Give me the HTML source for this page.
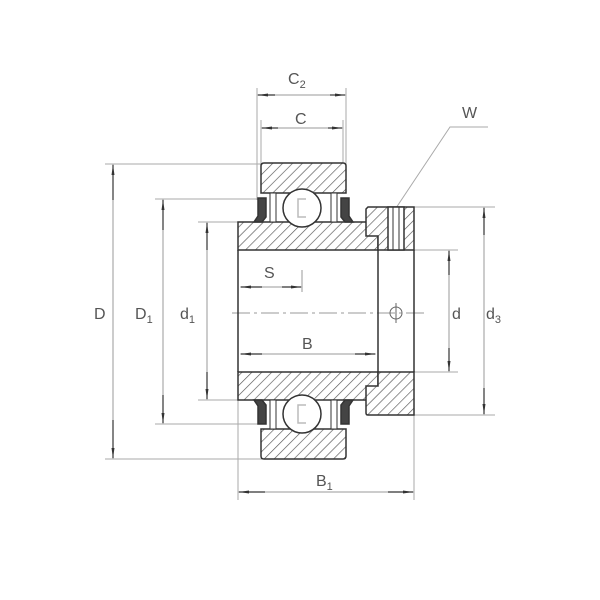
<!DOCTYPE html>
<html><head><meta charset="utf-8"><style>html,body{margin:0;padding:0;background:#fff}svg{display:block}text{font-family:"Liberation Sans",sans-serif;fill:#555;font-size:16px}</style></head>
<body>
<svg width="600" height="600" viewBox="0 0 600 600" xmlns="http://www.w3.org/2000/svg">
<defs>
<pattern id="h" patternUnits="userSpaceOnUse" width="7" height="7" patternTransform="rotate(45)">
<rect width="7" height="7" fill="#fff"/><line x1="0" y1="0" x2="0" y2="7" stroke="#555" stroke-width="1.3"/></pattern>
<marker id="a" markerWidth="10" markerHeight="6" refX="10" refY="3" orient="auto" markerUnits="userSpaceOnUse"><path d="M0,1.5 L10,3 L0,4.5z" fill="#333"/></marker>
</defs>
<g stroke="#aaa" stroke-width="1" fill="none">
<!-- extension lines -->
<line x1="105" y1="164" x2="262" y2="164"/><line x1="105" y1="459" x2="262" y2="459"/>
<line x1="155" y1="199" x2="262" y2="199"/><line x1="155" y1="424" x2="262" y2="424"/>
<line x1="198" y1="222" x2="238" y2="222"/><line x1="198" y1="400" x2="238" y2="400"/>
<line x1="414" y1="207" x2="495" y2="207"/><line x1="414" y1="415" x2="495" y2="415"/>
<line x1="414" y1="250" x2="458" y2="250"/><line x1="414" y1="372" x2="458" y2="372"/>
<line x1="257" y1="88" x2="257" y2="200"/><line x1="346" y1="88" x2="346" y2="165"/>
<line x1="261" y1="120" x2="261" y2="165"/><line x1="343" y1="120" x2="343" y2="165"/>
<line x1="238" y1="400" x2="238" y2="500"/><line x1="414" y1="415" x2="414" y2="500"/>
<!-- W leader -->
<polyline points="396,208 450,127 488,127"/>
</g>
<g stroke="#999" stroke-width="1" fill="none">
<line x1="113" y1="164" x2="113" y2="459"/><line x1="163" y1="199" x2="163" y2="424"/>
<line x1="207" y1="222" x2="207" y2="400"/><line x1="449" y1="250" x2="449" y2="372"/>
<line x1="484" y1="207" x2="484" y2="415"/>
<line x1="238" y1="492" x2="414" y2="492"/><line x1="257" y1="95" x2="346" y2="95"/>
<line x1="261" y1="128" x2="343" y2="128"/>
<line x1="240" y1="287" x2="302" y2="287"/><line x1="240" y1="354" x2="376" y2="354"/>
<line x1="302" y1="270" x2="302" y2="292"/>
</g>
<g stroke="#333" stroke-width="1.2" marker-end="url(#a)">
<line x1="113" y1="200" x2="113" y2="165"/><line x1="113" y1="420" x2="113" y2="458"/>
<line x1="163" y1="230" x2="163" y2="200"/><line x1="163" y1="395" x2="163" y2="423"/>
<line x1="207" y1="250" x2="207" y2="223"/><line x1="207" y1="372" x2="207" y2="399"/>
<line x1="449" y1="275" x2="449" y2="251"/><line x1="449" y1="348" x2="449" y2="371"/>
<line x1="484" y1="235" x2="484" y2="208"/><line x1="484" y1="388" x2="484" y2="414"/>
<line x1="265" y1="492" x2="239" y2="492"/><line x1="388" y1="492" x2="413" y2="492"/>
<line x1="275" y1="95" x2="258" y2="95"/><line x1="330" y1="95" x2="345" y2="95"/>
<line x1="278" y1="128" x2="262" y2="128"/><line x1="328" y1="128" x2="342" y2="128"/>
<line x1="262" y1="287" x2="241" y2="287"/><line x1="282" y1="287" x2="301" y2="287"/>
<line x1="262" y1="354" x2="241" y2="354"/><line x1="355" y1="354" x2="375" y2="354"/>
</g>
<!-- center line -->
<line x1="232" y1="313" x2="425" y2="313" stroke="#999" stroke-dasharray="18,4,3,4"/>
<g stroke="#333" stroke-width="1.5">
<!-- outer ring -->
<path d="M264,163 H343 Q346,163 346,166 V193 H261 V166 Q261,163 264,163z" fill="url(#h)"/>
<path d="M264,459 H343 Q346,459 346,456 V429 H261 V456 Q261,459 264,459z" fill="url(#h)"/>
<!-- inner ring -->
<path d="M238,222 H378 V250 H238z" fill="url(#h)"/>
<path d="M238,372 H378 V400 H238z" fill="url(#h)"/>
<!-- bore -->
<line x1="238" y1="250" x2="238" y2="372"/>
<!-- collar -->
<path d="M368,207 H414 V250 H378 V236 H366 V209z" fill="url(#h)"/>
<path d="M378,372 H414 V415 H368 Q366,415 366,413 V386 H378z" fill="url(#h)"/>
<line x1="378" y1="250" x2="378" y2="372"/><line x1="414" y1="250" x2="414" y2="372"/>
<rect x="388" y="207" width="16" height="43" fill="#fff"/>
<line x1="393" y1="207" x2="393" y2="250" stroke-width="1"/><line x1="399" y1="207" x2="399" y2="250" stroke-width="1"/>
<!-- seals -->
<path d="M258,198 H266 V217 L262,222 H254 L258,216z" fill="#444"/>
<path d="M349,198 H341 V217 L345,222 H353 L349,216z" fill="#444"/>
<path d="M258,424 H266 V405 L262,400 H254 L258,406z" fill="#444"/>
<path d="M349,424 H341 V405 L345,400 H353 L349,406z" fill="#444"/>
<rect x="270" y="193" width="6" height="29" fill="#fff" stroke-width="1"/>
<rect x="331" y="193" width="6" height="29" fill="#fff" stroke-width="1"/>
<rect x="270" y="400" width="6" height="29" fill="#fff" stroke-width="1"/>
<rect x="331" y="400" width="6" height="29" fill="#fff" stroke-width="1"/>
<!-- balls -->
<circle cx="302" cy="208" r="19" fill="#fff"/>
<circle cx="302" cy="414" r="19" fill="#fff"/>
</g>
<g stroke="#bbb" stroke-width="1.5" fill="none">
<path d="M306,199 H298 V217 H306"/><path d="M306,405 H298 V423 H306"/>
</g>
<circle cx="396" cy="313" r="6" fill="none" stroke="#666"/>
<line x1="396" y1="303" x2="396" y2="323" stroke="#666"/>
<text x="288" y="84">C<tspan font-size="11" dy="4">2</tspan></text>
<text x="295" y="124">C</text>
<text x="462" y="118">W</text>
<text x="94" y="319">D</text>
<text x="135" y="319">D<tspan font-size="11" dy="4">1</tspan></text>
<text x="180" y="319">d<tspan font-size="11" dy="4">1</tspan></text>
<text x="264" y="278">S</text>
<text x="302" y="349">B</text>
<text x="452" y="319">d</text>
<text x="486" y="319">d<tspan font-size="11" dy="4">3</tspan></text>
<text x="316" y="486">B<tspan font-size="11" dy="4">1</tspan></text>
</svg>
</body></html>
